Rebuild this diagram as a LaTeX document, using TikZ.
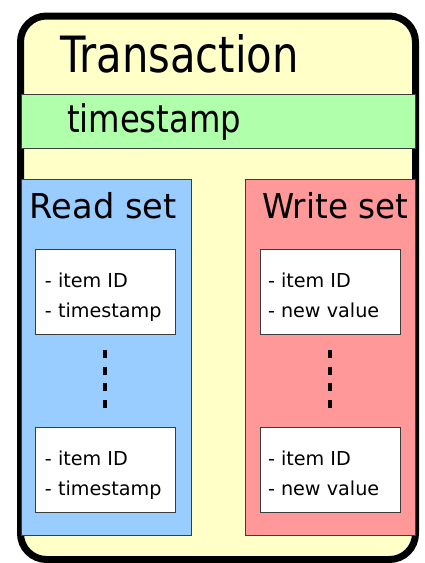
\documentclass[tikz,border=0pt]{standalone}
\usepackage{fontspec}
\setmainfont{DejaVu Sans}
\definecolor{bgyellow}{RGB}{255,255,200}
\definecolor{bandgreen}{RGB}{176,255,170}
\definecolor{readblue}{RGB}{153,204,255}
\definecolor{writered}{RGB}{255,153,153}
\definecolor{edgegray}{RGB}{60,60,60}
\tikzset{
  outerbox/.style={draw=black, line width=7pt, rounded corners=26pt, fill=bgyellow},
  panel/.style={draw=edgegray, line width=0.8pt},
  itembox/.style={draw=edgegray, line width=0.8pt, fill=white},
  txt/.style={anchor=base west, inner sep=0pt, outer sep=0pt},
  dots/.style={line width=3.5pt, dash pattern=on 8pt off 8.5pt},
  itemfont/.style={font=\fontsize{19.2}{23}\selectfont},
  setfont/.style={font=\fontsize{34.3}{40}\selectfont},
}
\begin{document}
\begin{tikzpicture}[x=1pt,y=-1pt]
\useasboundingbox (0,0) rectangle (424,563);
% outer transaction frame
\draw[outerbox] (20.5,16) rectangle (415.5,559.5);
\node[txt, font=\fontsize{50}{56}\selectfont] (title) at (60,72) {\scalebox{0.835}[1]{Transaction}};
% timestamp band
\path[panel, fill=bandgreen] (21,94) rectangle (415,148);
\node[txt, font=\fontsize{38}{44}\selectfont] (ts) at (67,132) {\scalebox{0.85}[1]{timestamp}};
% read set
\path[panel, fill=readblue] (21,179) rectangle (191,535);
\node[txt, setfont] (readlbl) at (30,218) {\scalebox{0.98}[1]{Read set}};
\draw[itembox] (35,249) rectangle (175,334);
\node[txt, itemfont] (r1a) at (45,287) {- item ID};
\node[txt, itemfont] (r1b) at (45,317) {- timestamp};
\draw[itembox] (35,427) rectangle (175,512);
\node[txt, itemfont] (r2a) at (45,465) {- item ID};
\node[txt, itemfont] (r2b) at (45,495) {- timestamp};
\coordinate (rdTop) at (105,350);
\coordinate (rdBot) at (105,408);
\draw[dots] (rdTop) -- (rdBot);
% write set
\path[panel, fill=writered] (245,179) rectangle (415,535);
\node[txt, setfont] (writelbl) at (262,218) {\scalebox{0.95}[1]{Write set}};
\draw[itembox] (260,249) rectangle (400,334);
\node[txt, itemfont] (w1a) at (268,287) {- item ID};
\node[txt, itemfont] (w1b) at (268,317) {- new value};
\draw[itembox] (260,427) rectangle (400,512);
\node[txt, itemfont] (w2a) at (268,465) {- item ID};
\node[txt, itemfont] (w2b) at (268,495) {- new value};
\coordinate (wrTop) at (330,350);
\coordinate (wrBot) at (330,408);
\draw[dots] (wrTop) -- (wrBot);
\end{tikzpicture}
\end{document}
